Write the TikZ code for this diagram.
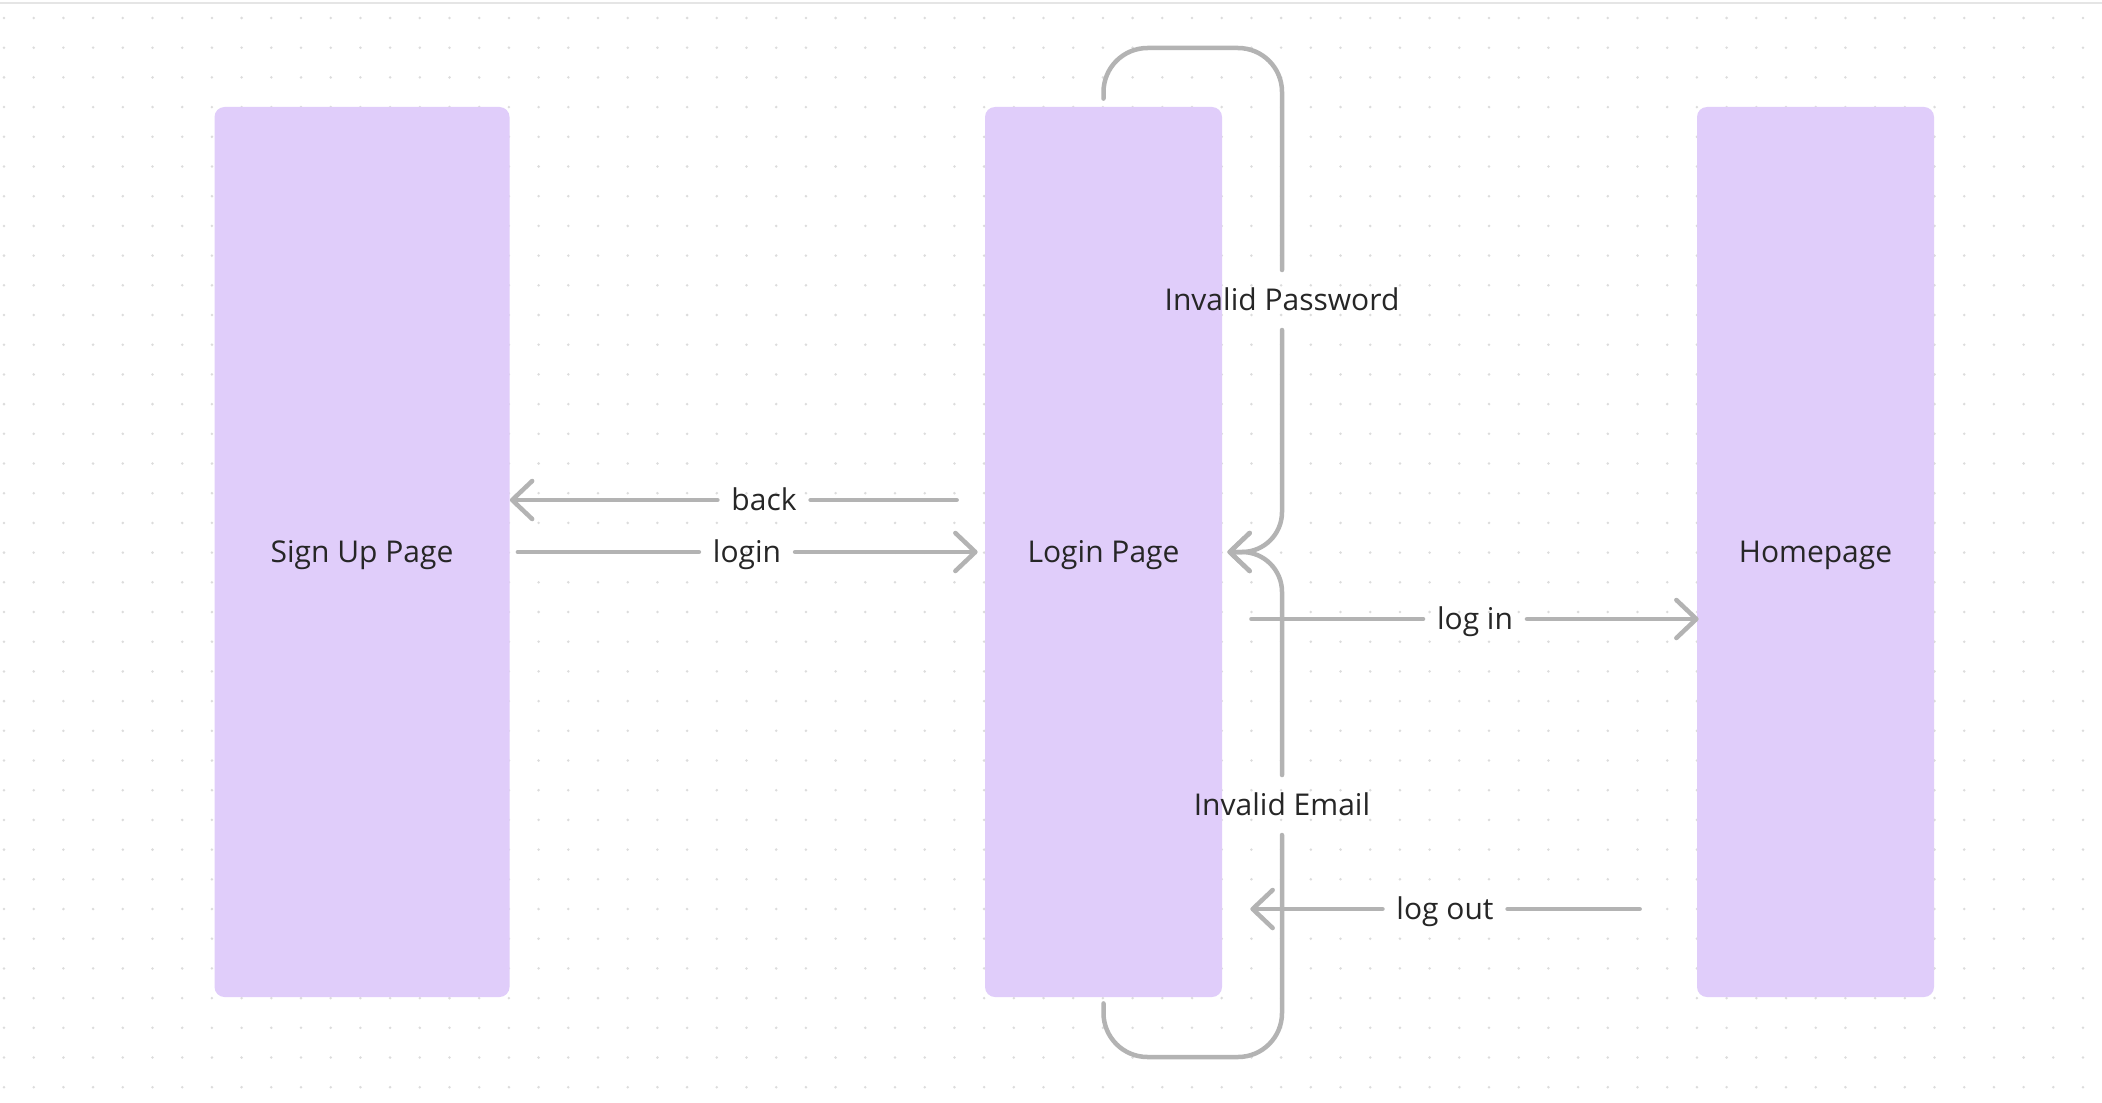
\documentclass[tikz,border=0pt]{standalone}
\usepackage{fontspec}
\setmainfont{Open Sans}
\usetikzlibrary{arrows.meta}
\definecolor{pagefill}{HTML}{E0CDFA}
\definecolor{linkgray}{HTML}{B3B3B3}
\definecolor{dotgray}{HTML}{DCDCDC}
\definecolor{inkdark}{HTML}{262626}
\definecolor{rulegray}{HTML}{E5E5E5}
\begin{document}
\begin{tikzpicture}
[x=0.5pt,y=-0.5pt,
  textdecorate/.style={text=inkdark,font=\fontsize{15}{18}\selectfont,text height=1em,text depth=0pt},%
  pagedecorate/.style={textdecorate,shape=rectangle,fill=pagefill,rounded corners=5pt,inner sep=0pt,minimum height=445pt},%
  linkdecorate/.style={draw=linkgray,line width=2.25pt,line cap=round,line join=round},%
  arrowdecorate/.style={linkdecorate,-{Straight Barb[length=10pt,width=19pt,round]}},%
  labeldecorate/.style={textdecorate,inner xsep=7pt,inner ysep=0pt,outer sep=0pt},%
  vlabeldecorate/.style={textdecorate,inner xsep=0pt,inner ysep=10pt,outer sep=0pt}]
\useasboundingbox (0,0) rectangle (2102,1102);
\fill[white] (0,0) rectangle (2102,1102);
%% dotted canvas
\draw[rulegray,line width=1pt] (0,3) -- (2102,3);
\foreach \i in {0,...,70} {
  \foreach \j in {0,...,36} {
    \fill[dotgray] ({4+29.7*\i},{18+29.7*\j}) circle (0.7pt);
  }
}
%% pages
\foreach \nodename/\x/\w/\txt in {signup/362/147.5pt/Sign Up Page,
  login/1103.5/118.5pt/Login Page, home/1815.5/118.5pt/Homepage} {
  \node (\nodename) at (\x,552) [pagedecorate,minimum width=\w] {\txt};
}
%% labels
\foreach \nodename/\x/\y/\txt in {backlbl/764/500/back, signinlbl/747/552/login,
  enterlbl/1475/619/log in, logoutlbl/1445/909/log out} {
  \node (\nodename) at (\x,\y) [labeldecorate] {\txt};
}
\node (pwdlbl) at (1282,300) [vlabeldecorate] {Invalid Password};
\node (emllbl) at (1282,805) [vlabeldecorate] {Invalid Email};
\coordinate (pwdtop) at (1282,48);
\coordinate (emlbot) at (1282,1057);
%% links
\draw[linkdecorate] ([xshift=-14pt,yshift=26pt]login.west) -- (backlbl);
\draw[arrowdecorate] (backlbl) -- ([yshift=26pt]signup.east);
\draw[linkdecorate] ([xshift=4pt]signup.east) -- (signinlbl);
\draw[arrowdecorate] (signinlbl) -- ([xshift=-3.5pt]login.west);
\draw[linkdecorate] ([xshift=14.5pt,yshift=-33.5pt]login.east) -- (enterlbl);
\draw[arrowdecorate] (enterlbl) -- ([xshift=1pt,yshift=-33.5pt]home.west);
\draw[linkdecorate] ([xshift=-28.5pt,yshift=-178.5pt]home.west) -- (logoutlbl);
\draw[arrowdecorate] (logoutlbl) -- ([xshift=14pt,yshift=-178.5pt]login.east);
%% loops back into the login page
\draw[linkdecorate,rounded corners=22pt] ([yshift=4pt]login.north) |- (pwdtop) -- (pwdlbl);
\draw[arrowdecorate,rounded corners=20pt] (pwdlbl) |- ([xshift=2.5pt]login.east);
\draw[linkdecorate,rounded corners=22pt] ([yshift=-3pt]login.south) |- (emlbot) -- (emllbl);
\draw[arrowdecorate,rounded corners=20pt] (emllbl) |- ([xshift=2.5pt]login.east);
\end{tikzpicture}
\end{document}
